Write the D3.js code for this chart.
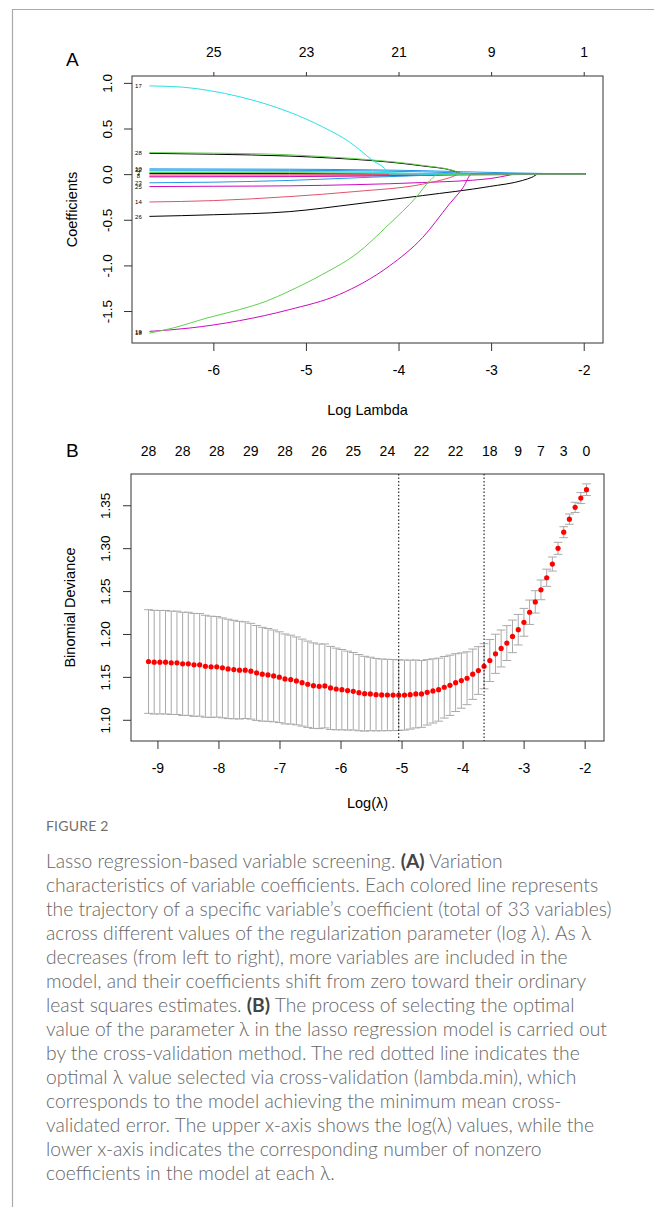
<!DOCTYPE html>
<html>
<head>
<meta charset="utf-8">
<script src="https://cdn.jsdelivr.net/npm/d3@7"></script>
<style>
body { margin: 0; background: #fff; }
svg { display: block; }
.r text { font-family: "Liberation Sans", Arial, sans-serif; fill: #000; }
.cap text { font-family: Lato, "Noto Sans", sans-serif; }
</style>
</head>
<body>
<svg id="fig" width="654" height="1207"></svg>
<script>
// ---- panel A: coefficient paths, [log lambda, coefficient] ----
const path17 = [[-6.69,0.967],[-6.33,0.953],[-6.04,0.915],[-5.72,0.849],[-5.43,0.768],[-5.18,0.68],[-4.82,0.518],[-4.53,0.353],[-4.28,0.151],[-4.13,0.04],[-4.10,0],[-1.98,0]];
const path28 = [[-6.69,0.236],[-6.0,0.23],[-5.18,0.212],[-4.7,0.185],[-4.28,0.155],[-3.74,0.096],[-3.41,0.04],[-3.3,0],[-1.98,0]];
const path20 = [[-6.69,0.228],[-6.0,0.218],[-5.18,0.198],[-4.7,0.175],[-4.28,0.148],[-3.74,0.09],[-3.41,0.038],[-3.3,0],[-1.98,0]];
const path10 = [[-6.69,0.058],[-5.18,0.054],[-4.28,0.047],[-3.74,0.038],[-3.3,0.026],[-2.8,0.014],[-2.3,0.005],[-1.98,0]];
const path22 = [[-6.69,0.045],[-5.18,0.042],[-4.28,0.035],[-3.74,0.025],[-3.3,0.012],[-3.0,0],[-1.98,0]];
const path11 = [[-6.69,0.035],[-5.18,0.03],[-4.28,0.02],[-3.9,0.01],[-3.7,0],[-1.98,0]];
const path3  = [[-6.69,0.018],[-5.18,0.016],[-4.28,0.012],[-3.74,0.006],[-3.45,0],[-1.98,0]];
const path7  = [[-6.69,0.008],[-5.18,0.006],[-4.5,0.003],[-4.2,0],[-1.98,0]];
const path2  = [[-6.69,-0.008],[-5.18,-0.007],[-4.28,-0.005],[-3.6,-0.003],[-3.3,0],[-1.98,0]];
const path8  = [[-6.69,-0.022],[-5.18,-0.02],[-4.28,-0.017],[-3.74,-0.014],[-3.0,-0.008],[-2.5,-0.003],[-2.3,0],[-1.98,0]];
const path12 = [[-6.69,-0.03],[-5.18,-0.027],[-4.28,-0.02],[-3.6,-0.01],[-3.2,0],[-1.98,0]];
const path23 = [[-6.69,-0.095],[-6.0,-0.088],[-5.18,-0.069],[-4.28,-0.033],[-3.74,-0.014],[-3.5,0],[-1.98,0]];
const path25 = [[-6.69,-0.136],[-6.0,-0.133],[-5.18,-0.128],[-4.46,-0.115],[-3.74,-0.092],[-3.02,-0.05],[-2.8,-0.01],[-2.75,0],[-1.98,0]];
const path14 = [[-6.69,-0.305],[-6.0,-0.29],[-5.18,-0.246],[-4.46,-0.19],[-3.74,-0.11],[-3.45,-0.04],[-3.33,0],[-1.98,0]];
const path26 = [[-6.69,-0.463],[-6.0,-0.445],[-5.18,-0.411],[-4.46,-0.327],[-3.74,-0.235],[-3.02,-0.136],[-2.66,-0.069],[-2.56,-0.035],[-2.49,0],[-1.98,0]];
const path18 = [[-6.69,-1.742],[-6.44,-1.687],[-6.07,-1.577],[-5.72,-1.485],[-5.43,-1.393],[-5.18,-1.282],[-4.82,-1.098],[-4.46,-0.878],[-4.1,-0.547],[-3.81,-0.254],[-3.66,-0.069],[-3.57,0],[-1.98,0]];
const path19 = [[-6.69,-1.723],[-6.26,-1.687],[-5.72,-1.606],[-5.18,-1.485],[-4.64,-1.319],[-4.1,-1.007],[-3.74,-0.695],[-3.45,-0.327],[-3.3,-0.143],[-3.21,0],[-1.98,0]];

const coefPaths = [path7, path2, path8, path12, path3, path11, path22, path10, path23, path25, path14, path26, path20, path28, path17, path19, path18];
// label drawn at the left end of a path (empty where the reference shows none)
const pathLabels = ["", "", "8", "", "3", "", "22", "10", "23", "25", "14", "26", "", "28", "17", "19", "18"];
const pathColors = ["#000000","#DF536B","#DF536B","#CD0BBC","#61D04F","#28E2E5","#2297E6","#2297E6","#2297E6","#CD0BBC","#DF536B","#000000","#000000","#61D04F","#28E2E5","#CD0BBC","#61D04F"];

const ticksA = [-6, -5, -4, -3, -2];
const dfA = [25, 23, 21, 9, 1];
const yTicksA = [-1.5, -1.0, -0.5, 0.0, 0.5, 1.0];

// ---- panel B: cross-validation curve ----
const logLambda = [-9.146,-9.053,-8.960,-8.867,-8.774,-8.680,-8.587,-8.494,-8.401,-8.308,
  -8.214,-8.121,-8.028,-7.935,-7.842,-7.748,-7.655,-7.562,-7.469,-7.376,
  -7.282,-7.189,-7.096,-7.003,-6.910,-6.816,-6.723,-6.630,-6.537,-6.444,
  -6.350,-6.257,-6.164,-6.071,-5.978,-5.884,-5.791,-5.698,-5.605,-5.512,
  -5.418,-5.325,-5.232,-5.139,-5.046,-4.952,-4.859,-4.766,-4.673,-4.580,
  -4.486,-4.393,-4.300,-4.207,-4.114,-4.020,-3.927,-3.834,-3.741,-3.648,
  -3.554,-3.461,-3.368,-3.275,-3.182,-3.088,-2.995,-2.902,-2.809,-2.716,
  -2.622,-2.529,-2.436,-2.343,-2.250,-2.156,-2.063,-1.970];
const cvMean = [1.1679,1.1671,1.1671,1.1671,1.1664,1.1664,1.1652,1.1652,1.1640,1.1640,
  1.1624,1.1617,1.1617,1.1605,1.1593,1.1585,1.1578,1.1578,1.1566,1.1546,
  1.1531,1.1523,1.1511,1.1496,1.1476,1.1468,1.1453,1.1433,1.1414,1.1398,
  1.1390,1.1394,1.1371,1.1359,1.1351,1.1340,1.1332,1.1316,1.1304,1.1301,
  1.1293,1.1290,1.1289,1.1288,1.1287,1.1288,1.1293,1.1301,1.1301,1.1320,
  1.1336,1.1351,1.1379,1.1402,1.1433,1.1457,1.1484,1.1531,1.1574,1.1624,
  1.1691,1.1769,1.1831,1.1894,1.1972,1.2050,1.2136,1.2253,1.2374,1.2514,
  1.2655,1.2815,1.2998,1.3186,1.3338,1.3475,1.3584,1.3681];
const cvSd = [0.0604,0.0604,0.0603,0.0603,0.0602,0.0602,0.0601,0.0601,0.0600,0.0598,
  0.0594,0.0590,0.0586,0.0582,0.0579,0.0574,0.0569,0.0563,0.0558,0.0553,
  0.0547,0.0541,0.0535,0.0529,0.0524,0.0518,0.0512,0.0507,0.0503,0.0498,
  0.0493,0.0489,0.0484,0.0476,0.0468,0.0460,0.0452,0.0444,0.0436,0.0428,
  0.0422,0.0418,0.0416,0.0414,0.0412,0.0408,0.0402,0.0396,0.0389,0.0381,
  0.0374,0.0367,0.0359,0.0351,0.0337,0.0322,0.0308,0.0293,0.0278,0.0263,
  0.0245,0.0228,0.0215,0.0203,0.0190,0.0178,0.0162,0.0142,0.0130,0.0115,
  0.0100,0.0082,0.0070,0.0064,0.0060,0.0060,0.0064,0.0068];
const lambdaMin = -5.046;
const lambda1se = -3.648;
const nzeroAt = [0, 6, 12, 18, 24, 30, 36, 42, 48, 54, 60, 65, 69, 73, 77];
const nzeroLabels = [28, 28, 28, 29, 28, 26, 25, 24, 22, 22, 18, 9, 7, 3, 0];
const ticksB = [-9, -8, -7, -6, -5, -4, -3, -2];
const yTicksB = [1.10, 1.15, 1.20, 1.25, 1.30, 1.35];

const svg = d3.select('#fig');
svg.append('rect').attr('width', 654).attr('height', 1207).attr('fill', '#fff');

// page frame
svg.append('line').attr('x1', 12).attr('x2', 654).attr('y1', 9.5).attr('y2', 9.5)
    .attr('stroke', '#aaa').attr('stroke-width', 1.2);
svg.append('line').attr('x1', 12.5).attr('x2', 12.5).attr('y1', 9).attr('y2', 1207)
    .attr('stroke', '#aaa').attr('stroke-width', 1.2);

// R-like padded domain (4% each side)
function rdomain(ext) {
    const p = (ext[1] - ext[0]) * 0.04;
    return [ext[0] - p, ext[1] + p];
}

function styleAxis(a, size) {
    a.select('.domain').remove();
    a.selectAll('line').attr('stroke', '#333');
    a.selectAll('text').attr('font-size', size).attr('font-family', null).attr('fill', '#111');
}

const g = svg.append('g').attr('class', 'r');

// ================= Panel A =================
const boxA = {l: 132, r: 603, t: 76, b: 343};
const allA = coefPaths.flat();
const xA = d3.scaleLinear().domain(rdomain(d3.extent(allA, d => d[0]))).range([boxA.l, boxA.r]);
const yA = d3.scaleLinear().domain(rdomain(d3.extent(allA, d => d[1]))).range([boxA.b, boxA.t]);

const gA = g.append('g');
const lineA = d3.line().x(d => xA(d[0])).y(d => yA(d[1])).curve(d3.curveMonotoneX);
gA.selectAll('path.coef').data(coefPaths).join('path')
    .attr('class', 'coef')
    .attr('d', lineA)
    .attr('fill', 'none')
    .attr('stroke', (d, i) => pathColors[i])
    .attr('stroke-width', 1);

gA.selectAll('text.vlab').data(coefPaths.filter((d, i) => pathLabels[i])).join('text')
    .attr('class', 'vlab')
    .attr('x', d => xA(d[0][0]) - 11)
    .attr('y', d => yA(d[0][1]) + 2.2)
    .attr('text-anchor', 'middle')
    .attr('font-size', 6)
    .text(d => pathLabels[coefPaths.indexOf(d)]);

gA.append('rect').attr('x', boxA.l).attr('y', boxA.t)
    .attr('width', boxA.r - boxA.l).attr('height', boxA.b - boxA.t)
    .attr('fill', 'none').attr('stroke', '#333').attr('stroke-width', 1);

// bottom axis
gA.append('g').attr('transform', `translate(0,${boxA.b})`)
    .call(d3.axisBottom(xA).tickValues(ticksA).tickSize(8).tickPadding(14).tickFormat(d => String(d)))
    .call(a => styleAxis(a, 14));
// top axis: number of nonzero coefficients
gA.append('g').attr('transform', `translate(0,${boxA.t})`)
    .call(d3.axisTop(xA).tickValues(ticksA).tickSize(4).tickPadding(15).tickFormat((d, i) => dfA[i]))
    .call(a => styleAxis(a, 14));
// left axis
const yAxA = gA.append('g').attr('transform', `translate(${boxA.l},0)`)
    .call(d3.axisLeft(yA).tickValues(yTicksA).tickSize(8).tickFormat(d => d.toFixed(1)))
    .call(a => styleAxis(a, 13.5));
yAxA.selectAll('text')
    .attr('x', 0).attr('dy', null).attr('text-anchor', 'middle')
    .attr('transform', 'translate(-20,0) rotate(-90)');

gA.append('text').attr('x', (boxA.l + boxA.r) / 2).attr('y', 415)
    .attr('text-anchor', 'middle').attr('font-size', 14.5).text('Log Lambda');
gA.append('text').attr('transform', `translate(77,${(boxA.t + boxA.b) / 2}) rotate(-90)`)
    .attr('text-anchor', 'middle').attr('font-size', 14.5).text('Coefficients');
gA.append('text').attr('x', 66).attr('y', 66).attr('font-size', 19).text('A');

// ================= Panel B =================
const boxB = {l: 131, r: 604, t: 474, b: 741};
const cvUp = cvMean.map((m, i) => m + cvSd[i]);
const cvLo = cvMean.map((m, i) => m - cvSd[i]);
const xB = d3.scaleLinear().domain(rdomain(d3.extent(logLambda))).range([boxB.l, boxB.r]);
const yB = d3.scaleLinear().domain(rdomain([d3.min(cvLo), d3.max(cvUp)])).range([boxB.b, boxB.t]);

const gB = g.append('g');
const capW = (xB(logLambda[logLambda.length - 1]) - xB(logLambda[0])) * 0.01;
const bars = gB.append('g').attr('stroke', '#A9A9A9').attr('stroke-width', 1);
bars.selectAll('line.v').data(logLambda).join('line').attr('class', 'v')
    .attr('x1', d => xB(d)).attr('x2', d => xB(d))
    .attr('y1', (d, i) => yB(cvUp[i])).attr('y2', (d, i) => yB(cvLo[i]));
bars.selectAll('line.u').data(logLambda).join('line').attr('class', 'u')
    .attr('x1', d => xB(d) - capW).attr('x2', d => xB(d) + capW)
    .attr('y1', (d, i) => yB(cvUp[i])).attr('y2', (d, i) => yB(cvUp[i]));
bars.selectAll('line.l').data(logLambda).join('line').attr('class', 'l')
    .attr('x1', d => xB(d) - capW).attr('x2', d => xB(d) + capW)
    .attr('y1', (d, i) => yB(cvLo[i])).attr('y2', (d, i) => yB(cvLo[i]));

gB.selectAll('circle').data(logLambda).join('circle')
    .attr('cx', d => xB(d)).attr('cy', (d, i) => yB(cvMean[i]))
    .attr('r', 2.6).attr('fill', '#FF0000');

gB.selectAll('line.sel').data([lambdaMin, lambda1se]).join('line').attr('class', 'sel')
    .attr('x1', d => xB(d)).attr('x2', d => xB(d))
    .attr('y1', boxB.t).attr('y2', boxB.b)
    .attr('stroke', '#000').attr('stroke-width', 1).attr('stroke-dasharray', '1.5,2');

gB.append('rect').attr('x', boxB.l).attr('y', boxB.t)
    .attr('width', boxB.r - boxB.l).attr('height', boxB.b - boxB.t)
    .attr('fill', 'none').attr('stroke', '#333').attr('stroke-width', 1);

gB.append('g').attr('transform', `translate(0,${boxB.b})`)
    .call(d3.axisBottom(xB).tickValues(ticksB).tickSize(8).tickPadding(14).tickFormat(d => String(d)))
    .call(a => styleAxis(a, 14));

gB.selectAll('text.nz').data(nzeroAt).join('text').attr('class', 'nz')
    .attr('x', d => xB(logLambda[d])).attr('y', 456)
    .attr('text-anchor', 'middle').attr('font-size', 14).attr('fill', '#111')
    .text((d, i) => nzeroLabels[i]);

const yAxB = gB.append('g').attr('transform', `translate(${boxB.l},0)`)
    .call(d3.axisLeft(yB).tickValues(yTicksB).tickSize(8).tickFormat(d => d.toFixed(2)))
    .call(a => styleAxis(a, 13.5));
yAxB.selectAll('text')
    .attr('x', 0).attr('dy', null).attr('text-anchor', 'middle')
    .attr('transform', 'translate(-21,0) rotate(-90)');

gB.append('text').attr('x', (boxB.l + boxB.r) / 2).attr('y', 808)
    .attr('text-anchor', 'middle').attr('font-size', 14.5).text('Log(λ)');
gB.append('text').attr('transform', `translate(75,${(boxB.t + boxB.b) / 2}) rotate(-90)`)
    .attr('text-anchor', 'middle').attr('font-size', 14.5).text('Binomial Deviance');
gB.append('text').attr('x', 66).attr('y', 457).attr('font-size', 19).text('B');

// ================= Caption =================
const captionLines = [
    [["Lasso regression-based variable screening. "], ["(A)", "b"], [" Variation"]],
    [["characteristics of variable coefficients. Each colored line represents"]],
    [["the trajectory of a specific variable’s coefficient (total of 33 variables)"]],
    [["across different values of the regularization parameter (log "], ["λ", "i"], ["). As λ"]],
    [["decreases (from left to right), more variables are included in the"]],
    [["model, and their coefficients shift from zero toward their ordinary"]],
    [["least squares estimates. "], ["(B)", "b"], [" The process of selecting the optimal"]],
    [["value of the parameter λ in the lasso regression model is carried out"]],
    [["by the cross-validation method. The red dotted line indicates the"]],
    [["optimal λ value selected via cross-validation (lambda.min), which"]],
    [["corresponds to the model achieving the minimum mean cross-"]],
    [["validated error. The upper x-axis shows the log(λ) values, while the"]],
    [["lower x-axis indicates the corresponding number of nonzero"]],
    [["coefficients in the model at each λ."]]
];

const cap = svg.append('g').attr('class', 'cap');
cap.append('text').attr('x', 46).attr('y', 831).attr('font-size', 14)
    .attr('fill', '#707070').attr('letter-spacing', 0.2).text('FIGURE 2');

const lines = cap.selectAll('text.cl').data(captionLines).join('text').attr('class', 'cl')
    .attr('x', 46).attr('y', (d, i) => 868 + i * 24)
    .attr('font-size', 17).attr('font-weight', 300).attr('fill', '#666');
lines.selectAll('tspan').data(d => d).join('tspan')
    .attr('font-weight', d => d[1] === 'b' ? 700 : null)
    .attr('fill', d => d[1] === 'b' ? '#444' : null)
    .attr('font-style', d => d[1] === 'i' ? 'italic' : null)
    .text(d => d[0]);
// fit the widest line to the column width
const w3 = lines.filter((d, i) => i === 2).node().getComputedTextLength();
lines.attr('font-size', 17 * 566 / w3);
</script>
</body>
</html>
